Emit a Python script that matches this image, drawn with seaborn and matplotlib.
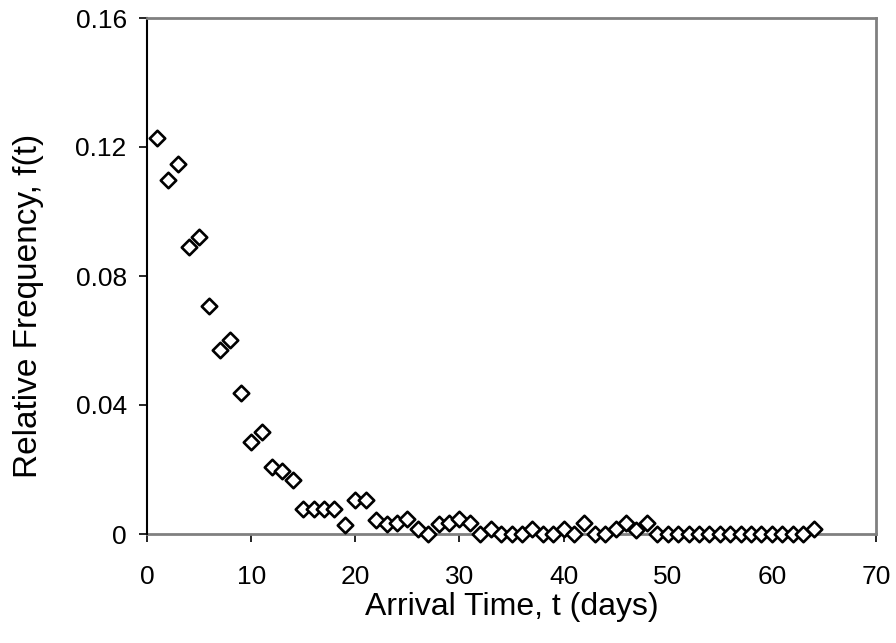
import matplotlib
matplotlib.use("Agg")
import matplotlib.pyplot as plt
import seaborn as sns
import pandas as pd

days = list(range(1, 65))
freq = [0.1229, 0.1098, 0.1147, 0.0889, 0.0920, 0.0708, 0.0571, 0.0603, 0.0436, 0.0284,
        0.0315, 0.0209, 0.0194, 0.0166, 0.0076, 0.0076, 0.0076, 0.0076, 0.0029, 0.0106,
        0.0104, 0.0044, 0.0031, 0.0033, 0.0047, 0.0016, 0.0, 0.0031, 0.0033, 0.0047,
        0.0033, 0.0, 0.0016, 0.0, 0.0, 0.0, 0.0016, 0.0, 0.0, 0.0014,
        0.0, 0.0033, 0.0, 0.0, 0.0014, 0.0033, 0.0012, 0.0033, 0.0, 0.0,
        0.0, 0.0, 0.0, 0.0, 0.0, 0.0, 0.0, 0.0, 0.0, 0.0,
        0.0, 0.0, 0.0, 0.0014]
x_ticks = [0, 10, 20, 30, 40, 50, 60, 70]
y_ticks = [0, 0.04, 0.08, 0.12, 0.16]
y_tick_labels = ["0", "0.04", "0.08", "0.12", "0.16"]

sns.set_style("white")
plt.rcParams['font.family'] = ['Liberation Sans', 'DejaVu Sans']
plt.rcParams.update({"text.color": "black", "axes.labelcolor": "black",
                     "xtick.color": "black", "ytick.color": "black"})

df = pd.DataFrame({"t": days, "f": freq})

fig = plt.figure(figsize=(8.96, 6.43), dpi=100)
ax = fig.add_axes([147/896, 1-534/643, (876-147)/896, (534-18)/643])

sns.scatterplot(data=df, x="t", y="f", marker="D", s=62, facecolor="white",
                edgecolor="black", linewidth=1.9, ax=ax, clip_on=False, zorder=3)

ax.set_xlim(0, 70)
ax.set_ylim(0, 0.16)
ax.set_xticks(x_ticks)
ax.set_xticklabels([str(v) for v in x_ticks])
ax.set_yticks(y_ticks)
ax.set_yticklabels(y_tick_labels)
ax.tick_params(axis="both", direction="out", length=6, width=1.2,
               labelsize=19, bottom=True, left=True)
ax.tick_params(axis="x", pad=16)
ax.tick_params(axis="y", pad=8.6)
ax.set_xlabel("Arrival Time, t (days)", fontsize=23, labelpad=2.5)
ax.set_ylabel("Relative Frequency, f(t)", fontsize=24)
ax.yaxis.set_label_coords(-0.141, 0.442)

for side in ["top", "right", "bottom"]:
    ax.spines[side].set_color("#808080")
    ax.spines[side].set_linewidth(2)
ax.spines["left"].set_color("black")
ax.spines["left"].set_linewidth(1.5)
ax.spines["bottom"].set_zorder(1)

fig.savefig("out.png", dpi=100, facecolor="white")
